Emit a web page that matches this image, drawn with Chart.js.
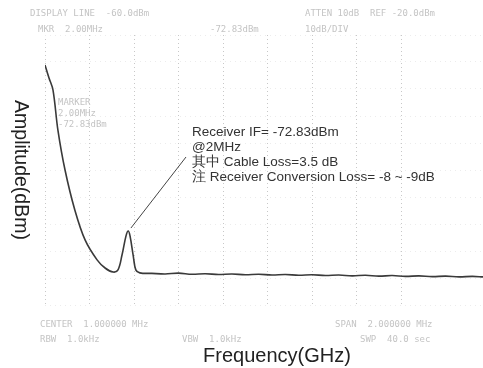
<!DOCTYPE html>
<html>
<head>
<meta charset="utf-8">
<script src="https://cdn.jsdelivr.net/npm/chart.js@4"></script>
<style>
  html, body { margin: 0; padding: 0; background: #fff; overflow: hidden; }
</style>
</head>
<body>
<canvas id="spec" width="483" height="368"></canvas>
<script>
// frequency in screen divisions, amplitude in dBm (ref -20 dBm, 10 dB/div)
const freqDiv = [0, 0.09, 0.18, 0.29, 0.45, 0.67, 0.9, 1.17, 1.35, 1.53, 1.64, 1.73, 1.82, 1.87, 1.91, 1.98, 2.04, 2.13,
  2.4, 2.7, 3.0, 3.3, 3.6, 3.9, 4.2, 4.5, 4.8, 5.1, 5.4, 5.7, 6.0, 6.3, 6.6, 6.9, 7.2, 7.5, 7.8, 8.1, 8.4, 8.7, 9.0, 9.3, 9.6, 9.84];
const ampDbm = [-31.1, -35.9, -40.4, -55.2, -70, -84.8, -95.9, -103.3, -106.3, -107.8, -107, -101.5, -94.4, -92.6, -94.4, -101.5, -107, -108.1,
  -108.3, -108.5, -108.2, -108.6, -108.4, -108.7, -108.5, -108.8, -108.6, -108.9, -108.7, -109.0, -108.8, -109.1, -108.9, -109.2, -109.0, -109.3, -109.1, -109.4, -109.2, -109.5, -109.3, -109.6, -109.4, -109.6];

const xTitle = "Frequency(GHz)";
const yTitle = "Amplitude(dBm)";
const noteLines = ["Receiver IF= -72.83dBm", "@2MHz", "其中 Cable Loss=3.5 dB", "注 Receiver Conversion Loss= -8 ~ -9dB"];
const markerLines = ["MARKER", "2.00MHz", "-72.83dBm"];
const headerLeft = ["DISPLAY LINE  -60.0dBm", "MKR  2.00MHz"];
const headerMid = "-72.83dBm";
const headerRight = ["ATTEN 10dB  REF -20.0dBm", "10dB/DIV"];
const footerTexts = ["CENTER  1.000000 MHz", "SPAN  2.000000 MHz", "RBW  1.0kHz", "VBW  1.0kHz", "SWP  40.0 sec"];

const textPlugin = {
  id: "texts",
  afterDraw(chart) {
    const c = chart.ctx;
    const xs = chart.scales.x, ys = chart.scales.y;
    c.save();

    // faint instrument readouts
    c.fillStyle = "#c4c4c4";
    c.font = "9px 'DejaVu Sans Mono'";
    c.textBaseline = "middle";
    c.fillText(headerLeft[0], 30, 14);
    c.fillText(headerLeft[1], 38, 30);
    c.fillText(headerMid, 210, 30);
    c.fillText(headerRight[0], 305, 14);
    c.fillText(headerRight[1], 305, 30);
    c.fillText(markerLines[0], 58, 103);
    c.fillText(markerLines[1], 58, 114);
    c.fillText(markerLines[2], 58, 125);
    c.fillText(footerTexts[0], 40, 325);
    c.fillText(footerTexts[1], 335, 325);
    c.fillText(footerTexts[2], 40, 340);
    c.fillText(footerTexts[3], 182, 340);
    c.fillText(footerTexts[4], 360, 340);

    // annotation
    c.fillStyle = "#333";
    c.font = "13.5px 'Liberation Sans'";
    noteLines.forEach((t, i) => c.fillText(t, 192, 132 + i * 15));

    // leader line to the IF peak
    c.strokeStyle = "#444";
    c.lineWidth = 1;
    c.beginPath();
    c.moveTo(186, 157);
    c.lineTo(xs.getPixelForValue(1.93), ys.getPixelForValue(-91.5));
    c.stroke();

    // axis titles
    c.fillStyle = "#222";
    c.font = "20px 'Liberation Sans'";
    c.textAlign = "center";
    c.fillText(xTitle, 277, 356);
    c.save();
    c.translate(20, 170);
    c.rotate(Math.PI / 2);
    c.font = "19.5px 'Liberation Sans'";
    c.fillText(yTitle, 0, 0);
    c.restore();

    c.restore();
  }
};

new Chart(document.getElementById("spec"), {
  type: "line",
  data: {
    datasets: [{
      data: freqDiv.map((f, i) => ({ x: f, y: ampDbm[i] })),
      borderColor: "#3a3a3a",
      borderWidth: 1.6,
      pointRadius: 0,
      tension: 0.35,
      fill: false
    }]
  },
  options: {
    responsive: false,
    animation: false,
    layout: { padding: { left: 45, top: 35, right: 0, bottom: 63 } },
    plugins: { legend: { display: false }, tooltip: { enabled: false } },
    scales: {
      x: {
        type: "linear",
        min: 0,
        max: 9.84,
        ticks: { display: false, stepSize: 1 },
        grid: { color: "#c8c8c8", drawTicks: false, lineWidth: 1 },
        border: { display: false, dash: [1, 3] }
      },
      y: {
        min: -120,
        max: -20,
        ticks: { display: false, stepSize: 10 },
        grid: { color: "#ececec", drawTicks: false },
        border: { display: false, dash: [1, 4] }
      }
    }
  },
  plugins: [textPlugin]
});
</script>
</body>
</html>
